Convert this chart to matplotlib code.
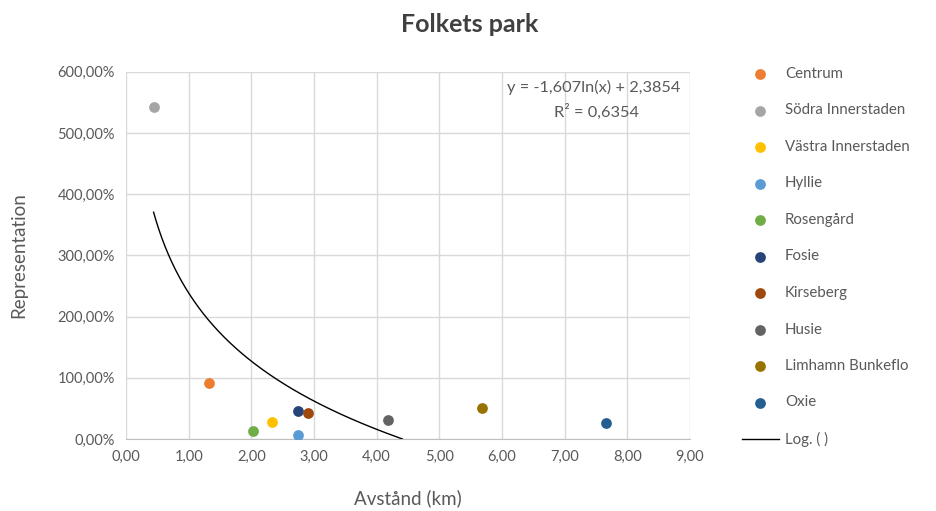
import numpy as np
import matplotlib
matplotlib.use("Agg")
import matplotlib.pyplot as plt
from matplotlib.ticker import FuncFormatter, MultipleLocator

plt.rcParams['font.family'] = ['Lato', 'DejaVu Sans']

districts = ["Centrum", "Södra Innerstaden", "Västra Innerstaden", "Hyllie", "Rosengård",
             "Fosie", "Kirseberg", "Husie", "Limhamn Bunkeflo", "Oxie"]
distance_km = [1.32, 0.44, 2.33, 2.75, 2.02, 2.75, 2.91, 4.18, 5.68, 7.66]
representation = [0.92, 5.42, 0.28, 0.07, 0.13, 0.45, 0.42, 0.31, 0.50, 0.26]
colors = ["#ED7D31", "#A5A5A5", "#FFC000", "#5B9BD5", "#70AD47",
          "#264478", "#9E480E", "#636363", "#997300", "#255E91"]
trend_a = -1.607
trend_b = 2.3854
r2 = 0.6354

fig = plt.figure(figsize=(9.37, 5.11), dpi=100)
W, H = 937, 511
ax = fig.add_axes([126 / W, 1 - 439 / H, (690 - 126) / W, (439 - 71.7) / H])

txt = "#595959"
for xi, yi, c, lab in zip(distance_km, representation, colors, districts):
    ax.scatter([xi], [yi], s=60, color=c, label=lab, zorder=3, linewidths=0)

xs = np.linspace(min(distance_km), 9, 2000)
ys = trend_a * np.log(xs) + trend_b
mask = ys >= 0
ax.plot(xs[mask], ys[mask], color="black", lw=1.0, zorder=2, label="Log. ( )")

ax.set_xlim(0, 9)
ax.set_ylim(0, 6)
ax.xaxis.set_major_locator(MultipleLocator(1))
ax.yaxis.set_major_locator(MultipleLocator(1))
ax.xaxis.set_major_formatter(FuncFormatter(lambda v, p: f"{v:.2f}".replace(".", ",")))
ax.yaxis.set_major_formatter(FuncFormatter(lambda v, p: f"{v*100:.2f}".replace(".", ",") + "%"))
ax.grid(True, color="#D9D9D9", lw=1)
ax.set_axisbelow(True)
for s in ["top", "right", "left"]:
    ax.spines[s].set_visible(False)
ax.spines["bottom"].set_color("#BFBFBF")
ax.tick_params(axis="both", length=0, labelsize=10.5, colors=txt, pad=8)

ax.set_xlabel("Avstånd (km)", fontsize=13.5, color=txt, labelpad=18)
ax.set_ylabel("Representation", fontsize=13.5, color=txt, labelpad=22)
fig.text(470 / W, 1 - 25 / H, "Folkets park", ha="center", va="center",
         fontsize=18, fontweight="bold", color="#404040")

ax.text(0.83, 0.958, "y = -1,607ln(x) + 2,3854", transform=ax.transAxes,
        ha="center", va="center", fontsize=11.8, color=txt)
ax.text(0.835, 0.89, "R² = 0,6354", transform=ax.transAxes,
        ha="center", va="center", fontsize=11.8, color=txt)

handles, labels = ax.get_legend_handles_labels()
leg = fig.legend(handles, labels, loc="upper left", bbox_to_anchor=(728 / W, 1 - 53.5 / H),
                 frameon=False, fontsize=10.8, labelspacing=1.5, handlelength=2.5,
                 handletextpad=0.4, labelcolor=txt)

fig.savefig("out.png", dpi=100)
